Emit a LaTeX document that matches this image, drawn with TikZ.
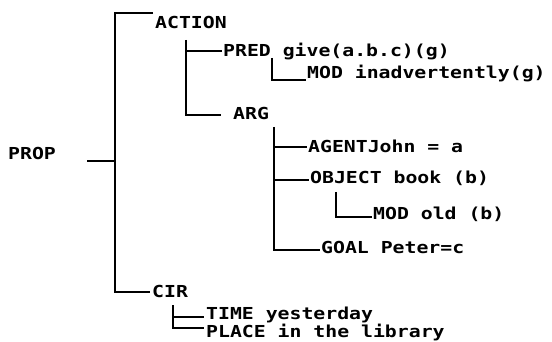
\documentclass[tikz,border=0pt]{standalone}
\usepackage{fontspec}
\newfontfamily\lbfont[FakeStretch=1.2]{DejaVu Sans Mono Bold}
\begin{document}
\begin{tikzpicture}[x=1pt,y=-1pt,
  lbl/.style={font=\lbfont\fontsize{16.5pt}{18pt}\selectfont, inner sep=0pt, anchor=west, text height=12pt, text depth=0pt},
  br/.style={line width=2pt}]
\useasboundingbox (0,0) rectangle (552,342);
% nodes
\node[lbl] (prop) at (8,154) {PROP};
\node[lbl] (action) at (155,23) {ACTION};
\node[lbl] (pred) at (223,51) {PRED give(a.b.c)(g)};
\node[lbl] (mod1) at (307,73) {MOD inadvertently(g)};
\node[lbl] (arg) at (233,114) {ARG};
\node[lbl] (agent) at (308,147) {AGENTJohn = a};
\node[lbl] (object) at (310,178) {OBJECT book (b)};
\node[lbl] (mod2) at (373,213) {MOD old (b)};
\node[lbl] (goal) at (321,248) {GOAL Peter=c};
\node[lbl] (cir) at (152,291) {CIR};
\node[lbl] (time) at (206,313) {TIME yesterday};
\node[lbl] (place) at (206,331) {PLACE in the library};
% coordinates
\coordinate (p0) at (87,161);
\coordinate (p1) at (115,161);
\coordinate (vt) at (115,13);
\coordinate (vb) at (115,292);
\coordinate (at) at (153,13);
\coordinate (ct) at (150,292);
\coordinate (a0) at (186,40);
\coordinate (a1) at (186,115);
\coordinate (pr) at (222,51);
\coordinate (ar) at (221,115);
\coordinate (m0) at (272,58);
\coordinate (m1) at (272,80);
\coordinate (mr) at (306,80);
\coordinate (g0) at (274,127);
\coordinate (g1) at (274,250);
\coordinate (ag) at (307,147);
\coordinate (ob) at (309,180);
\coordinate (o0) at (336,192);
\coordinate (o1) at (336,217);
\coordinate (om) at (372,217);
\coordinate (go) at (320,250);
\coordinate (c0) at (173,305);
\coordinate (c1) at (173,328);
\coordinate (tm) at (204,317);
\coordinate (c2) at (173,317);
\coordinate (pl) at (204,328);
% connectors
\draw[br] (p0) -- (p1);
\draw[br] (at) -- (vt) -- (vb) -- (ct);
\draw[br] (a0) -- (a1) -- (ar);
\draw[br] (186,51) -- (pr);
\draw[br] (m0) -- (m1) -- (mr);
\draw[br] (g0) -- (g1) -- (go);
\draw[br] (274,147) -- (ag);
\draw[br] (274,180) -- (ob);
\draw[br] (o0) -- (o1) -- (om);
\draw[br] (c0) -- (c1) -- (pl);
\draw[br] (c2) -- (tm);
\end{tikzpicture}
\end{document}
